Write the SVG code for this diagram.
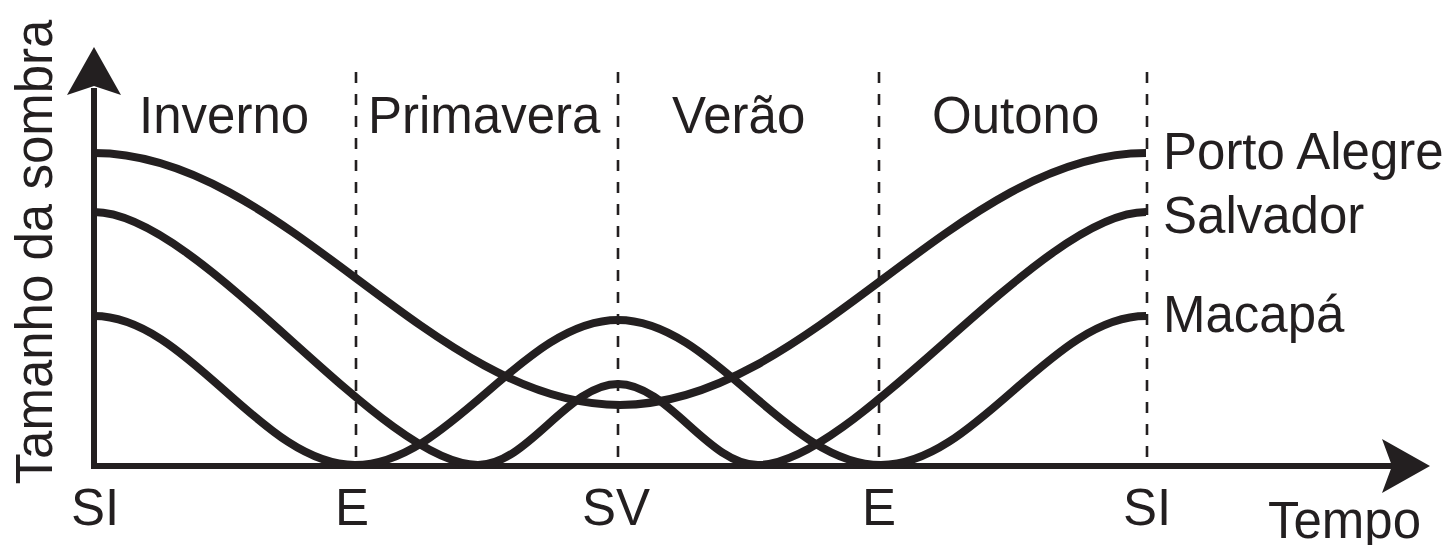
<svg xmlns="http://www.w3.org/2000/svg" width="1453" height="545" viewBox="0 0 1453 545">
<style>
text{font-family:"Liberation Sans",Arial,Helvetica,sans-serif;font-size:51px;fill:#231f20}
.axis{fill:none;stroke:#231f20;stroke-width:6;stroke-linejoin:miter}
.head{fill:#231f20;stroke:none}
.dash{stroke:#231f20;stroke-width:2.6;stroke-dasharray:11 11;fill:none}
.curve{fill:none;stroke:#231f20;stroke-width:8;stroke-linecap:butt}
.mid{text-anchor:middle}
</style>
<rect width="1453" height="545" fill="#ffffff"/>
<g id="axes">
<path class="axis" d="M94,88 V466 H1392"/>
<path class="head" d="M94,47 L121,95 L94,86 L67,95 Z"/>
<path class="head" d="M1430,466 L1382,493 L1392,466 L1382,439 Z"/>
<text id="ylabel" class="mid" transform="translate(52,252) rotate(-90)">Tamanho da sombra</text>
<text id="xlabel" x="1268" y="538">Tempo</text>
</g>
<g id="season-lines">
<line class="dash" x1="356" y1="72" x2="356" y2="464"/>
<line class="dash" x1="618" y1="72" x2="618" y2="464"/>
<line class="dash" x1="879" y1="72" x2="879" y2="464"/>
<line class="dash" x1="1147" y1="72" x2="1147" y2="464"/>
</g>
<g id="seasons">
<text x="139" y="133">Inverno</text>
<text x="368" y="133">Primavera</text>
<text x="672" y="133">Verão</text>
<text x="932" y="133">Outono</text>
</g>
<g id="ticks">
<text class="mid" x="95" y="525">SI</text>
<text class="mid" x="352" y="525">E</text>
<text class="mid" x="616" y="525">SV</text>
<text class="mid" x="879" y="525">E</text>
<text class="mid" x="1147" y="525">SI</text>
</g>
<g id="curves">
<path id="porto-alegre" class="curve" d="M94,153 C283,153 431,405 620,405 C809,405 957,153 1146,153"/>
<path id="salvador" class="curve" d="M94,212 C200,212 380,465 478,465 C528,465 568,384 618,384 C668,384 708,465 758,465 C856,465 1040,212 1146,212"/>
<path id="macapa" class="curve" d="M94,316 C188,316 261,465 355,465 C450,465 523,320 618,320 C713,320 786,465 881,465 C976,465 1051,316 1146,316"/>
</g>
<g id="city-labels">
<text x="1163" y="169">Porto Alegre</text>
<text x="1163" y="233">Salvador</text>
<text x="1163" y="332">Macapá</text>
</g>
</svg>
